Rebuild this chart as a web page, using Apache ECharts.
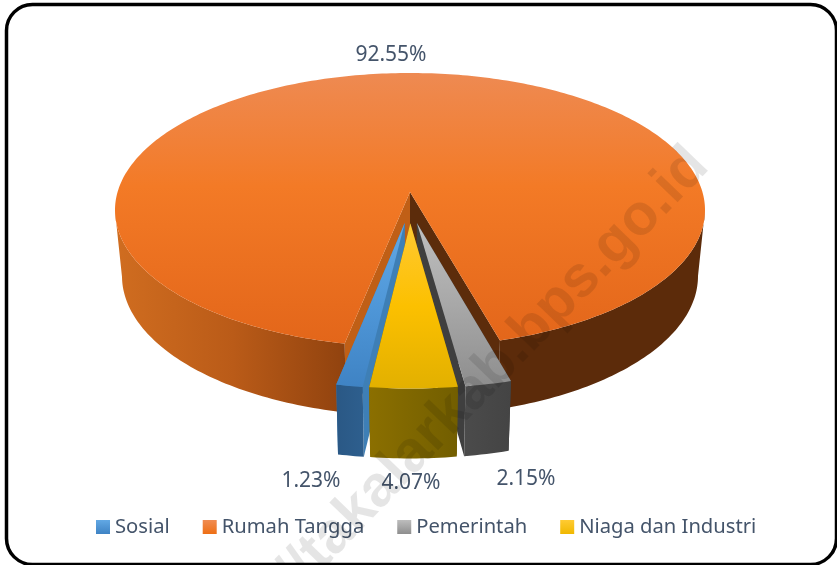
<!DOCTYPE html>
<html>
<head>
<meta charset="utf-8">
<script src="https://cdn.jsdelivr.net/npm/echarts@6/dist/echarts.min.js"></script>
<style>html,body{margin:0;padding:0;background:#fff}#c{width:837px;height:565px}</style>
</head>
<body>
<div id="c"></div>
<script>
const categories = ['Sosial', 'Rumah Tangga', 'Pemerintah', 'Niaga dan Industri'];
const values = [1.23, 92.55, 2.15, 4.07];

const firstSliceAngle = 186.8;
const explosion = 0.1125;
const FONT = '"Noto Sans", sans-serif';
const TEXT = '#44546a';

// Projection of the disc plane: top rim and bottom rim ellipses with perspective
const persp = 0.131;
const top3d = { cx: 410, cy: 210, rx: 295, ry: 137 };
const bot3d = { cx: 410, cy: 276, rx: 288, ry: 140 };
function project(X, Y, rim) {
  const w = 1 - persp * Y;
  const u = X * Math.sqrt(1 - persp * persp) / w;
  const v = (Y - persp) / w;
  return [rim.cx + rim.rx * u, rim.cy + rim.ry * v];
}

const lg = (x0, y0, x1, y1, stops, global) => new echarts.graphic.LinearGradient(
  x0, y0, x1, y1, stops.map(s => ({ offset: s[0], color: s[1] })), global);

const looks = [
  { z: 4,
    top: lg(0,0,0,1,[[0,'#62a8e4'],[0.5,'#4f97d8'],[1,'#3f83c4']]),
    wall: lg(0,0,1,0,[[0,'#2a5885'],[1,'#2e5f8e']]),
    faces: ['#3e7fb6', '#3e7fb6'], legend: lg(0,0,0,1,[[0,'#62a8e4'],[1,'#3f83c4']]), label: [311, 481] },
  { z: 2,
    top: lg(0,0,0,1,[[0,'#ee8a52'],[0.42,'#f37a26'],[1,'#e3661a']]),
    wall: lg(115,0,705,0,[[0,'#d06d20'],[0.2,'#ba5b18'],[0.38,'#93440f'],[0.47,'#5c2b0a'],[1,'#5c2b0a']], true),
    faces: ['#c05f16', '#5c2c0b'], legend: lg(0,0,0,1,[[0,'#f08c52'],[1,'#ee6f14']]), label: [391, 55.5] },
  { z: 3,
    top: lg(0,0,0,1,[[0,'#bfbfbf'],[0.5,'#a8a8a8'],[1,'#8e8e8e']]),
    wall: lg(0,0,1,0,[[0,'#4b4b4b'],[1,'#444444']]),
    faces: ['#3f3f3f', '#3f3f3f'], legend: lg(0,0,0,1,[[0,'#bdbdbd'],[1,'#8e8e8e']]), label: [526, 479] },
  { z: 5,
    top: lg(0,0,0,1,[[0,'#ffc933'],[0.5,'#fcc000'],[1,'#e2b000']]),
    wall: lg(0,0,1,0,[[0,'#8b6f00'],[1,'#725e00']]),
    faces: ['#725e00', '#725e00'], legend: lg(0,0,0,1,[[0,'#ffcb33'],[1,'#f0b800']]), label: [411, 483] }
];

const total = values.reduce((a, b) => a + b, 0);
let running = firstSliceAngle;
const spans = values.map(v => {
  const s = { from: running, to: running + v / total * 360 };
  running = s.to;
  return s;
});
const rad = d => d * Math.PI / 180;
const dir = a => [Math.sin(rad(a)), -Math.cos(rad(a))];
const midOf = s => (s.from + s.to) / 2;
// The pie's true centre lies below the big slice, which is pushed straight up.
const base = [0, explosion];

function renderSlice(params, api) {
  const i = params.seriesIndex;
  const v = api.value(0);
  const span = { from: spans[i].from, to: spans[i].from + v / total * 360 };
  const look = looks[i];
  const d = dir(midOf(span));
  const big = v / total > 0.5;
  const c = big ? [0, 0] : [base[0] + d[0] * explosion, base[1] + d[1] * explosion];
  const n = Math.max(6, Math.ceil(span.to - span.from));
  const pts = rim => {
    const out = [];
    for (let k = 0; k <= n; k++) {
      const e = dir(span.from + (span.to - span.from) * k / n);
      out.push(project(c[0] + e[0], c[1] + e[1], rim));
    }
    return out;
  };
  const topArc = pts(top3d), botArc = pts(bot3d);
  const apexT = project(c[0], c[1], top3d), apexB = project(c[0], c[1], bot3d);
  const poly = (points, fill, z2) => ({
    type: 'polygon', z2, shape: { points }, style: { fill, stroke: null }
  });
  // The outer wall is only seen on rim points at or below the ellipse's widest line.
  const walls = [];
  let run = null;
  for (let k = 0; k <= n; k++) {
    if (topArc[k][1] >= top3d.cy) {
      if (!run) { run = []; walls.push(run); }
      run.push(k);
    } else run = null;
  }
  const wallPolys = walls.map(r => poly(
    r.map(k => topArc[k]).concat(r.slice().reverse().map(k => botArc[k])), look.wall, 2));
  return {
    type: 'group',
    children: [
      poly([apexT, topArc[0], botArc[0], apexB], look.faces[0], 1),
      poly([apexT, topArc[n], botArc[n], apexB], look.faces[1], 1)
    ].concat(wallPolys, [
      poly([apexT].concat(topArc), look.top, 3),
      { type: 'text', z2: 4, style: {
          text: v.toFixed(2) + '%', x: look.label[0], y: look.label[1],
          textAlign: 'center', textVerticalAlign: 'middle',
          fill: TEXT, font: '21px ' + FONT } }
    ])
  };
}

const chart = echarts.init(document.getElementById('c'), null, { renderer: 'canvas' });
chart.setOption({
  animation: false,
  backgroundColor: '#ffffff',
  legend: {
    data: categories, left: 91, top: 512, itemWidth: 14, itemHeight: 14, itemGap: 33,
    icon: 'rect', selectedMode: false,
    textStyle: { color: TEXT, fontFamily: FONT, fontSize: 20.2 }
  },
  graphic: [
    { type: 'text', z: 20, silent: true, x: 699, y: 157, rotation: rad(46),
      style: { text: 'https://takalarkab.bps.go.id', textAlign: 'right', textVerticalAlign: 'middle',
               fill: 'rgba(0,0,0,0.1)', font: 'bold 58px "Liberation Sans", sans-serif' } },
    { type: 'rect', z: 30, silent: true,
      shape: { x: 6.5, y: 4.5, width: 830, height: 560, r: 26 },
      style: { fill: 'none', stroke: '#000', lineWidth: 3.5 } }
  ],
  series: categories.map((name, i) => ({
    type: 'custom', name, coordinateSystem: 'none', z: looks[i].z, silent: true,
    itemStyle: { color: looks[i].legend },
    renderItem: renderSlice,
    data: [[values[i]]]
  }))
});
</script>
</body>
</html>
